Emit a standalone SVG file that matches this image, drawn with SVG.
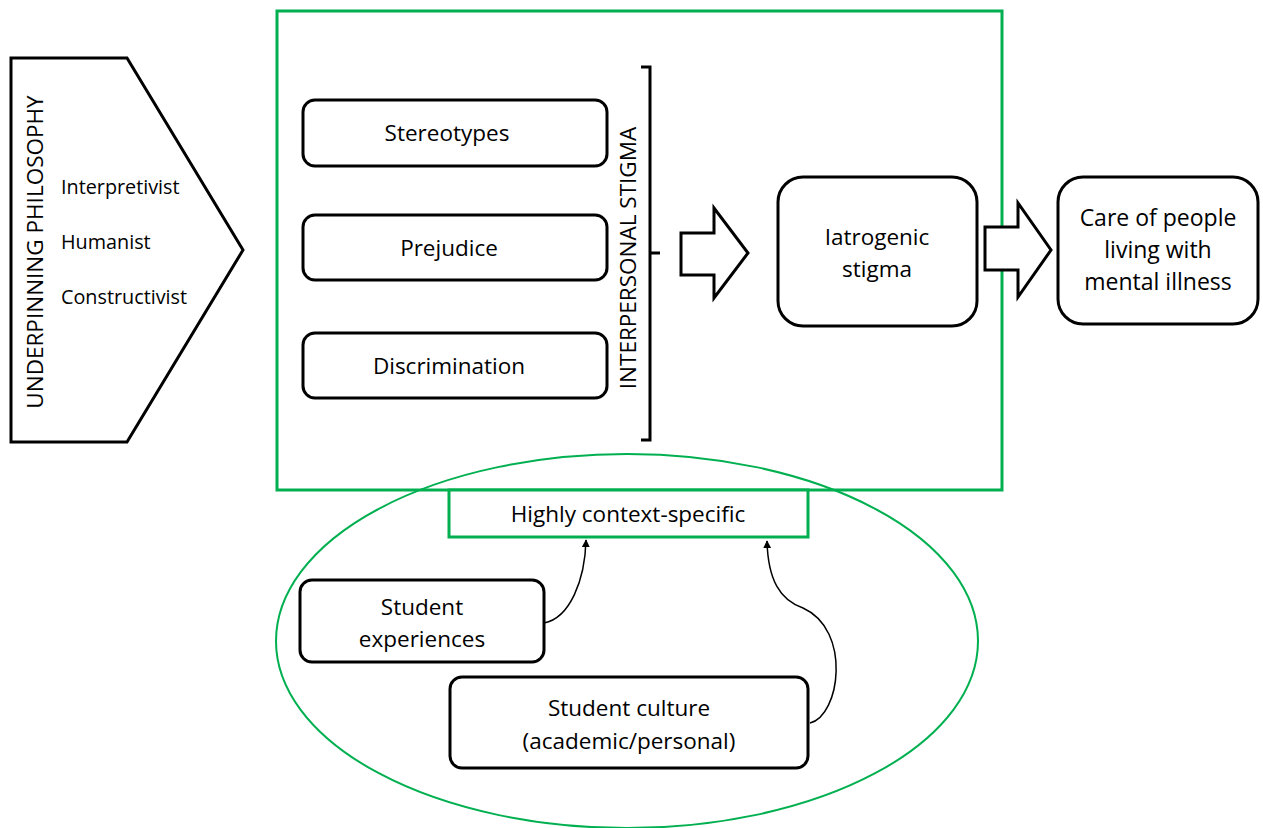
<svg xmlns="http://www.w3.org/2000/svg" width="1263" height="828" viewBox="0 0 1263 828">
<defs>
<style>
.box{fill:#fff;stroke:#000;stroke-width:3}
.blk{fill:#fff;stroke:#000;stroke-width:3;stroke-linejoin:miter}
.grn{fill:none;stroke:#00B050;stroke-width:3}
.t{font-family:"Open Sans","Noto Sans","Liberation Sans",sans-serif;font-size:22.5px;fill:#000;text-anchor:middle}
.s{font-family:"Open Sans","Noto Sans","Liberation Sans",sans-serif;font-size:19.8px;fill:#000}
.con{fill:none;stroke:#000;stroke-width:1.5}
</style>
<marker id="ah" viewBox="0 0 10 10" refX="9" refY="5" markerWidth="8" markerHeight="8" orient="auto" markerUnits="userSpaceOnUse"><path d="M0,0 L10,5 L0,10 z" fill="#000"/></marker>
</defs>
<rect width="1263" height="828" fill="#fff"/>

<g id="context-ellipse"><ellipse cx="627" cy="641" rx="351" ry="187" fill="none" stroke="#00B050" stroke-width="2"/></g>

<g id="green-frame"><rect x="277" y="11" width="725" height="479" class="grn"/></g>

<g id="philosophy">
<path d="M11,58 L127,58 L243,250 L127,442 L11,442 Z" class="blk"/>
<text class="t" transform="translate(43,252) rotate(-90)">UNDERPINNING PHILOSOPHY</text>
<text class="s" x="61" y="194">Interpretivist</text>
<text class="s" x="61" y="249">Humanist</text>
<text class="s" x="61" y="304">Constructivist</text>
</g>

<g id="stereotypes"><rect x="303" y="100" width="304" height="66" rx="12" class="box"/><text class="t" x="447" y="141">Stereotypes</text></g>
<g id="prejudice"><rect x="303" y="215" width="304" height="65" rx="12" class="box"/><text class="t" x="449" y="256">Prejudice</text></g>
<g id="discrimination"><rect x="303" y="333" width="304" height="65" rx="12" class="box"/><text class="t" x="449" y="374">Discrimination</text></g>

<g id="interpersonal-stigma">
<path d="M641,67 L650,67 L650,440 L641,440 M650,253 L660,253" fill="none" stroke="#000" stroke-width="3"/>
<text class="t" transform="translate(636,258) rotate(-90)">INTERPERSONAL STIGMA</text>
</g>

<g id="iatrogenic"><rect x="778" y="177" width="199" height="149" rx="25" class="box"/><text class="t" x="877" y="245">Iatrogenic</text><text class="t" x="877" y="277">stigma</text></g>

<g id="care"><rect x="1058" y="177" width="200" height="147" rx="25" class="box"/>
<text class="t" x="1158" y="226" style="font-size:23px">Care of people</text>
<text class="t" x="1158" y="258" style="font-size:23px">living with</text>
<text class="t" x="1158" y="290" style="font-size:23px">mental illness</text></g>

<g id="context"><rect x="449" y="490" width="359" height="47" fill="#fff" stroke="#00B050" stroke-width="3"/><text class="t" x="628" y="522">Highly context-specific</text></g>

<g id="student-experiences"><rect x="300" y="580" width="244" height="82" rx="12" class="box"/><text class="t" x="422" y="615">Student</text><text class="t" x="422" y="647">experiences</text></g>

<g id="student-culture"><rect x="450" y="677" width="358" height="91" rx="12" class="box"/><text class="t" x="629" y="716">Student culture</text><text class="t" x="629" y="749">(academic/personal)</text></g>

<g id="connectors">
<path d="M681,233 L714,233 L714,208 L748,253 L714,298 L714,275 L681,275 Z" class="blk"/>
<path d="M985,227 L1018,227 L1018,203 L1051,250 L1018,297 L1018,270 L985,270 Z" class="blk"/>
<path d="M544,623 C570,618 585,580 586,540" class="con" marker-end="url(#ah)"/>
<path d="M810,723 C840,716 852,630 803,608 C780,600 768,580 767,541" class="con" marker-end="url(#ah)"/>
</g>
</svg>
